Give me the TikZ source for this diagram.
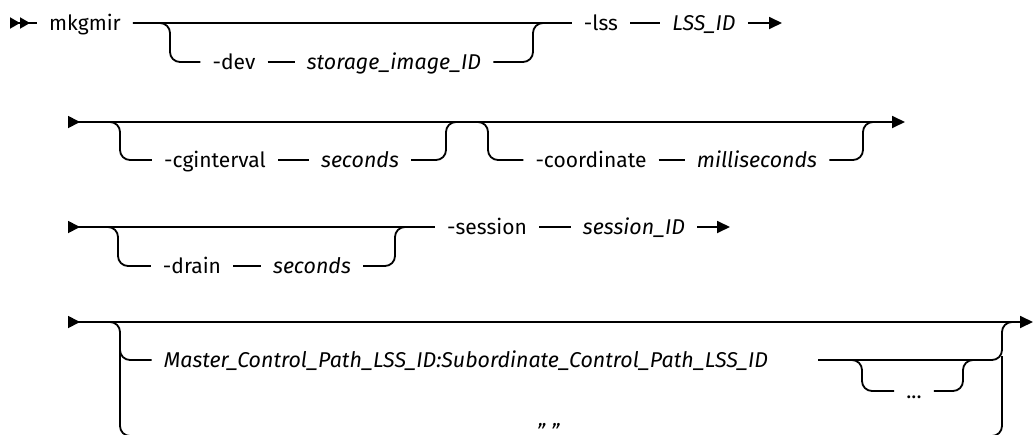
\documentclass[tikz,border=0pt]{standalone}
\usepackage{fontspec}
\setmainfont{Fira Sans}
\usetikzlibrary{arrows.meta}

\begin{document}
\begin{tikzpicture}[
  x=1pt, y=-1pt,
  font=\fontsize{21}{25}\selectfont,
  rail/.style={line width=1.8pt, rounded corners=10pt},
  kwd/.style={inner xsep=12pt, inner ysep=0pt, text height=15pt, text depth=1pt},
  varb/.style={kwd, font=\fontsize{21.4}{25}\selectfont\itshape},
  starttip/.style={{Triangle[reversed,length=12pt,width=12pt]}-},
  endtip/.style={-{Triangle[length=13pt,width=12pt]}},
  bothtip/.style={{Triangle[reversed,length=12pt,width=12pt]}-{Triangle[length=13pt,width=12pt]}},
]
  \useasboundingbox (0,0) rectangle (1034,434);
  \clip (0,0) rectangle (1034,434);

  % row 1: mkgmir [-dev id] -lss LSS_ID
  \coordinate (r1s) at (10,23);
  \node[kwd] (mk) at (85,23) {mkgmir};
  \coordinate (devin) at (170,62);
  \node[kwd] (dev) at (234,62) {-dev};
  \node[varb] (sid) at (394,62) {storage\_image\_ID};
  \coordinate (devout) at (533,23);
  \node[kwd] (lss) at (601,23) {-lss};
  \node[varb] (lssid) at (704,23) {LSS\_ID};
  \coordinate (r1e) at (782,23);

  \draw[rail, {Triangle[reversed,length=10pt,width=11pt] Triangle[reversed,length=10pt,width=11pt]}-] (r1s) -- (mk);
  \draw[rail] (mk) -- (lss);
  \draw[rail] (mk) -| (devin) -- (dev);
  \draw[rail] (dev) -- (sid);
  \draw[rail] (sid) -| (devout) -- (lss);
  \draw[rail] (lss) -- (lssid);
  \draw[rail, endtip] (lssid) -- (r1e);

  % row 2: [-cginterval seconds] [-coordinate milliseconds]
  \coordinate (r2s) at (68,122);
  \coordinate (cgin) at (120,160);
  \node[kwd] (cgint) at (215,160) {-cginterval};
  \node[varb] (seca) at (360,160) {seconds};
  \coordinate (cgout) at (446,122);
  \coordinate (cdin) at (488,160);
  \node[kwd] (coord) at (591,160) {-coordinate};
  \node[varb] (msec) at (757,160) {milliseconds};
  \coordinate (cdout) at (863,122);
  \coordinate (cdend) at (880,122);
  \coordinate (r2e) at (905,122);

  \draw[rail, bothtip] (r2s) -- (r2e);
  \draw[rail] (r2s) -| (cgin) -- (cgint);
  \draw[rail] (cgint) -- (seca);
  \draw[rail] (seca) -| (cgout) -| (cdin) -- (coord);
  \draw[rail] (coord) -- (msec);
  \draw[rail] (msec) -| (cdout) -- (cdend);

  % row 3: [-drain seconds] -session session_ID
  \coordinate (r3s) at (68,227);
  \coordinate (drin) at (118,266);
  \node[kwd] (drain) at (192,266) {-drain};
  \node[varb] (secb) at (312,266) {seconds};
  \coordinate (drout) at (395,227);
  \node[kwd] (sess) at (487,227) {-session};
  \node[varb] (sessid) at (634,227) {session\_ID};
  \coordinate (r3e) at (730,227);

  \draw[rail, starttip] (r3s) -- (sess);
  \draw[rail] (r3s) -| (drin) -- (drain);
  \draw[rail] (drain) -- (secb);
  \draw[rail] (secb) -| (drout) -- (sess);
  \draw[rail] (sess) -- (sessid);
  \draw[rail, endtip] (sessid) -- (r3e);

  % row 4: control path pairs, repeatable
  \coordinate (r4s) at (68,322);
  \coordinate (r4e) at (1033,322);
  \coordinate (altl) at (120,350);
  \coordinate (altlb) at (120,436);
  \node[varb] (mcp) at (466,360) {Master\_Control\_Path\_LSS\_ID:Subordinate\_Control\_Path\_LSS\_ID};
  \coordinate (rin) at (818,360);
  \coordinate (lpin) at (852,360);
  \coordinate (lpdn) at (862,391);
  \node[kwd] (dots) at (914,391) {...};
  \coordinate (lpup) at (963,360);
  \coordinate (lpend) at (973,360);
  \coordinate (altr) at (1002,322);
  \coordinate (altre) at (1014,322);
  \coordinate (altrm) at (1002,356);
  \node[varb, text height=7pt] (qq) at (548,436) {" "};

  \draw[rail, bothtip] (r4s) -- (r4e);
  \draw[rail] (r4s) -| (altlb) -- (qq);
  \draw[rail] (altl) |- (mcp);
  \draw[rail] (rin) -| (altr) -- (altre);
  \draw[rail] (lpin) -| (lpdn) -- (dots);
  \draw[rail] (dots) -| (lpup) -- (lpend);
  \draw[rail] (qq) -| (altrm);
\end{tikzpicture}
\end{document}
